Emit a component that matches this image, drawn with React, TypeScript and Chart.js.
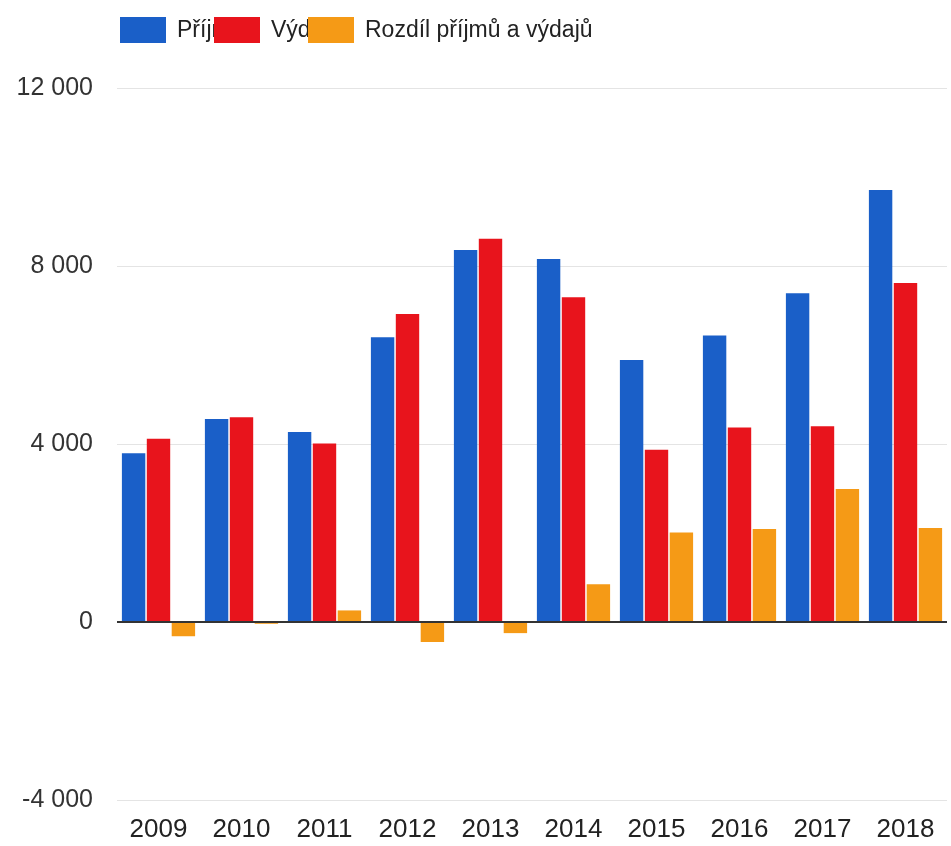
import React, { useEffect, useRef } from "react";
import { Chart, registerables } from "chart.js";

Chart.register(...registerables);

const years = ["2009", "2010", "2011", "2012", "2013", "2014", "2015", "2016", "2017", "2018"];
const prijmy = [3790, 4560, 4270, 6400, 8360, 8160, 5890, 6440, 7390, 9710];
const vydaje = [4120, 4600, 4010, 6920, 8610, 7300, 3870, 4370, 4400, 7620];
const rozdil = [-320, -40, 260, -450, -250, 850, 2010, 2090, 2990, 2110];
const seriesLabels = ["Příjmy", "Výdaje", "Rozdíl příjmů a výdajů"];
const seriesColors = ["#1a5fc8", "#e8141c", "#f59a16"];
const yMin = -4000;
const yMax = 12000;
const yStep = 4000;

const FONT = "'Liberation Sans', Arial, sans-serif";

const fmt = (v: number) => {
  const s = Math.abs(v).toString().replace(/\B(?=(\d{3})+(?!\d))/g, " ");
  return (v < 0 ? "-" : "") + s;
};

const overlapLegend = {
  id: "overlapLegend",
  afterDraw(chart: any) {
    const ctx = chart.ctx;
    const startX = 120;
    const stride = 94;
    const boxW = 46;
    const boxH = 26;
    const top = 17;
    ctx.save();
    ctx.font = `23px ${FONT}`;
    ctx.textBaseline = "middle";
    ctx.textAlign = "left";
    chart.data.datasets.forEach((ds: any, i: number) => {
      const x = startX + i * stride;
      ctx.fillStyle = ds.backgroundColor;
      ctx.fillRect(x, top, boxW, boxH);
      ctx.fillStyle = "#222";
      ctx.fillText(ds.label, x + boxW + 11, top + boxH / 2 + 1);
    });
    ctx.restore();
  },
};

const zeroLine = {
  id: "zeroLine",
  afterDatasetsDraw(chart: any) {
    const { ctx, chartArea } = chart;
    const y = chart.scales.y.getPixelForValue(0);
    ctx.save();
    ctx.strokeStyle = "#333";
    ctx.lineWidth = 2;
    ctx.beginPath();
    ctx.moveTo(chartArea.left, y);
    ctx.lineTo(chartArea.right, y);
    ctx.stroke();
    ctx.restore();
  },
};

export default function App() {
  const ref = useRef<HTMLCanvasElement | null>(null);

  useEffect(() => {
    document.body.style.margin = "0";
    const canvas = ref.current;
    if (!canvas) return;
    const chart = new Chart(canvas, {
      type: "bar",
      data: {
        labels: years,
        datasets: [prijmy, vydaje, rozdil].map((d, i) => ({
          label: seriesLabels[i],
          data: d,
          backgroundColor: seriesColors[i],
          borderWidth: 0,
          categoryPercentage: 0.9,
          barPercentage: 0.94,
        })),
      },
      options: {
        animation: false,
        responsive: false,
        maintainAspectRatio: false,
        layout: { padding: { top: 88, right: 4, left: 0, bottom: 0 } },
        plugins: {
          legend: { display: false },
          tooltip: { enabled: false },
        },
        scales: {
          x: {
            grid: { display: false, drawTicks: false },
            border: { display: false },
            ticks: {
              color: "#222",
              font: { family: FONT, size: 26 },
              padding: 14,
              maxRotation: 0,
            },
            afterFit: (s: any) => {
              s.height = 46;
            },
          },
          y: {
            min: yMin,
            max: yMax,
            ticks: {
              stepSize: yStep,
              color: "#333",
              font: { family: FONT, size: 25 },
              padding: 24,
              callback: (v: any) => fmt(Number(v)),
            },
            grid: {
              drawTicks: false,
              color: (c: any) => (c.tick && c.tick.value === 0 ? "rgba(0,0,0,0)" : "#e4e4e4"),
              lineWidth: 1,
            },
            border: { display: false },
            afterFit: (s: any) => {
              s.width = 117;
            },
          },
        },
      },
      plugins: [overlapLegend, zeroLine],
    });
    return () => chart.destroy();
  }, []);

  return (
    <div style={{ width: 951, height: 846 }}>
      <canvas ref={ref} width={951} height={846} style={{ display: "block" }} />
    </div>
  );
}
